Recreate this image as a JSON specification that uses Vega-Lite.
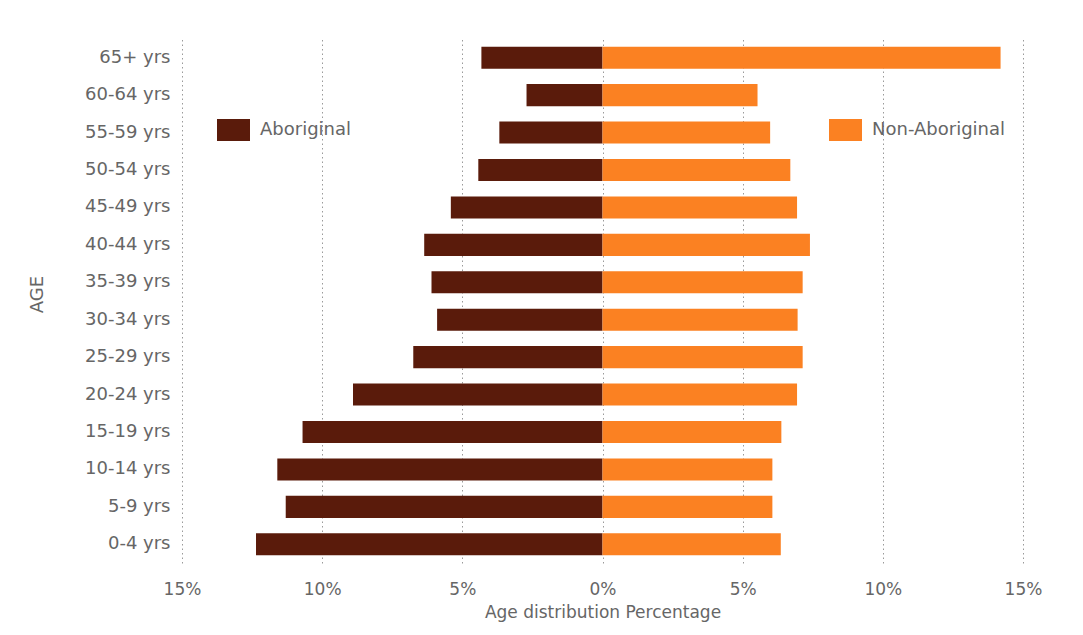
{
  "$schema": "https://vega.github.io/schema/vega-lite/v6.json",
  "width": 841,
  "height": 524,
  "autosize": {"type": "none"},
  "padding": {"left": 182, "top": 39, "right": 60, "bottom": 72},
  "background": "white",
  "data": {
    "values": [
      {"age": "65+ yrs", "group": "Aboriginal", "value": -4.32},
      {"age": "60-64 yrs", "group": "Aboriginal", "value": -2.71},
      {"age": "55-59 yrs", "group": "Aboriginal", "value": -3.68},
      {"age": "50-54 yrs", "group": "Aboriginal", "value": -4.43},
      {"age": "45-49 yrs", "group": "Aboriginal", "value": -5.41},
      {"age": "40-44 yrs", "group": "Aboriginal", "value": -6.36},
      {"age": "35-39 yrs", "group": "Aboriginal", "value": -6.1},
      {"age": "30-34 yrs", "group": "Aboriginal", "value": -5.9},
      {"age": "25-29 yrs", "group": "Aboriginal", "value": -6.75},
      {"age": "20-24 yrs", "group": "Aboriginal", "value": -8.9},
      {"age": "15-19 yrs", "group": "Aboriginal", "value": -10.7},
      {"age": "10-14 yrs", "group": "Aboriginal", "value": -11.6},
      {"age": "5-9 yrs", "group": "Aboriginal", "value": -11.3},
      {"age": "0-4 yrs", "group": "Aboriginal", "value": -12.36},
      {"age": "65+ yrs", "group": "Non-Aboriginal", "value": 14.2},
      {"age": "60-64 yrs", "group": "Non-Aboriginal", "value": 5.53},
      {"age": "55-59 yrs", "group": "Non-Aboriginal", "value": 5.98},
      {"age": "50-54 yrs", "group": "Non-Aboriginal", "value": 6.7},
      {"age": "45-49 yrs", "group": "Non-Aboriginal", "value": 6.94},
      {"age": "40-44 yrs", "group": "Non-Aboriginal", "value": 7.4},
      {"age": "35-39 yrs", "group": "Non-Aboriginal", "value": 7.14},
      {"age": "30-34 yrs", "group": "Non-Aboriginal", "value": 6.96},
      {"age": "25-29 yrs", "group": "Non-Aboriginal", "value": 7.14},
      {"age": "20-24 yrs", "group": "Non-Aboriginal", "value": 6.94},
      {"age": "15-19 yrs", "group": "Non-Aboriginal", "value": 6.38},
      {"age": "10-14 yrs", "group": "Non-Aboriginal", "value": 6.06},
      {"age": "5-9 yrs", "group": "Non-Aboriginal", "value": 6.06},
      {"age": "0-4 yrs", "group": "Non-Aboriginal", "value": 6.36}
    ]
  },
  "mark": {"type": "bar"},
  "encoding": {
    "y": {
      "field": "age",
      "type": "nominal",
      "sort": ["65+ yrs", "60-64 yrs", "55-59 yrs", "50-54 yrs", "45-49 yrs", "40-44 yrs", "35-39 yrs", "30-34 yrs", "25-29 yrs", "20-24 yrs", "15-19 yrs", "10-14 yrs", "5-9 yrs", "0-4 yrs"],
      "scale": {"paddingInner": 0.41, "paddingOuter": 0.205},
      "axis": {
        "title": "AGE",
        "domain": false,
        "ticks": false,
        "grid": false,
        "labelPadding": 12,
        "labelFontSize": 18,
        "labelColor": "#666666",
        "titleFontSize": 18,
        "titleFontWeight": "normal",
        "titleColor": "#666666",
        "titleX": -145,
        "titleY": 255,
        "titleAngle": 270,
        "titleAlign": "center",
        "titleBaseline": "middle"
      }
    },
    "x": {
      "field": "value",
      "type": "quantitative",
      "stack": null,
      "scale": {"domain": [-15, 15], "nice": false, "zero": true},
      "axis": {
        "title": "Age distribution Percentage",
        "values": [-15, -10, -5, 0, 5, 10, 15],
        "labelExpr": "abs(datum.value) + '%'",
        "labelFlush": false,
        "labelOverlap": false,
        "domain": false,
        "ticks": false,
        "grid": true,
        "gridDash": [1.5, 3],
        "gridColor": "#9a9a9a",
        "gridWidth": 1,
        "labelPadding": 18,
        "labelFontSize": 17,
        "labelColor": "#666666",
        "titleFontSize": 17,
        "titleFontWeight": "normal",
        "titleColor": "#666666",
        "titlePadding": 7
      }
    },
    "color": {
      "field": "group",
      "type": "nominal",
      "scale": {"domain": ["Aboriginal", "Non-Aboriginal"], "range": ["#5a1b0b", "#fb8122"]},
      "legend": {
        "title": null,
        "orient": "none",
        "direction": "horizontal",
        "legendX": 40.5,
        "legendY": 80,
        "padding": 0,
        "symbolType": "M-1.5,-1L1.5,-1L1.5,1L-1.5,1Z",
        "symbolSize": 484,
        "symbolStrokeWidth": 0,
        "symbolOpacity": 1,
        "labelOffset": 15.5,
        "labelFontSize": 18,
        "labelColor": "#666666",
        "columnPadding": 477
      }
    }
  },
  "config": {
    "font": "DejaVu Sans",
    "view": {"stroke": null}
  }
}
